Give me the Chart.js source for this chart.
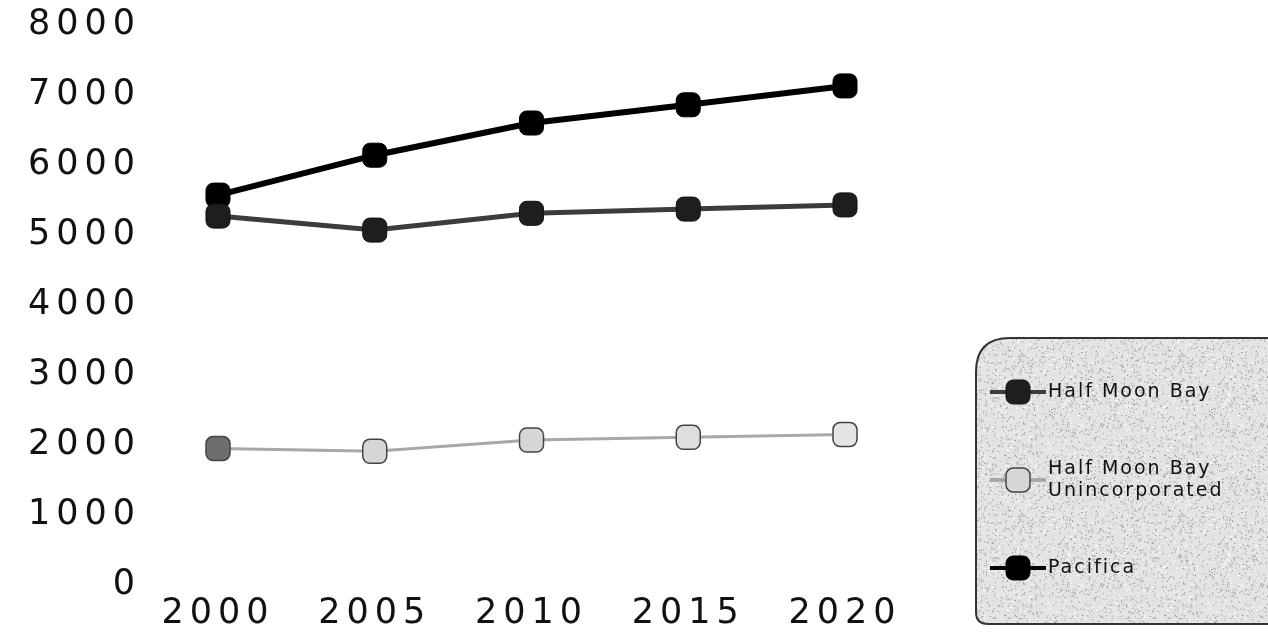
<!DOCTYPE html>
<html>
<head>
<meta charset="utf-8">
<script src="https://cdn.jsdelivr.net/npm/chart.js@4"></script>
<style>
  html, body { margin: 0; padding: 0; background: #fff; }
  #wrap { width: 1268px; height: 637px; position: relative; }
</style>
</head>
<body>
<div id="wrap"><canvas id="chart"></canvas></div>
<script>
const years = ['2000', '2005', '2010', '2015', '2020'];
const halfMoonBay = [5270, 5070, 5310, 5370, 5430];
const hmbUnincorporated = [1950, 1910, 2070, 2110, 2150];
const pacifica = [5570, 6140, 6600, 6860, 7130];
const yTicks = [0, 1000, 2000, 3000, 4000, 5000, 6000, 7000, 8000];

const labelFont = { family: "'DejaVu Sans', sans-serif", size: 35 };

// wide-set tick digits
const spacingPlugin = {
    id: 'spacing',
    beforeLayout(chart) { chart.ctx.letterSpacing = '6px'; },
    beforeDraw(chart) { chart.ctx.letterSpacing = '6px'; }
};

// speckled legend panel
function speckle(ctx) {
    const c = document.createElement('canvas');
    c.width = 160; c.height = 160;
    const p = c.getContext('2d');
    p.fillStyle = '#e4e4e4';
    p.fillRect(0, 0, 160, 160);
    let s = 12345;
    const next = () => { s = (s * 1103515245 + 12345) % 2147483648; return s / 2147483648; };
    for (let i = 0; i < 2600; i++) {
        const x = next() * 160, y = next() * 160;
        const g = next();
        p.fillStyle = g < 0.5 ? '#8a8a8a' : (g < 0.8 ? '#b5b5b5' : '#ffffff');
        p.fillRect(x, y, 1 + (g > 0.9 ? 1 : 0), 1);
    }
    return ctx.createPattern(c, 'repeat');
}

const legendPlugin = {
    id: 'sideLegend',
    afterDraw(chart) {
        const ctx = chart.ctx;
        const x0 = 976, y0 = 338, x1 = 1280, y1 = 624;
        ctx.save();
        ctx.letterSpacing = '0px';
        ctx.beginPath();
        ctx.moveTo(x0 + 34, y0);
        ctx.lineTo(x1, y0);
        ctx.lineTo(x1, y1);
        ctx.lineTo(x0 + 12, y1);
        ctx.quadraticCurveTo(x0, y1, x0, y1 - 12);
        ctx.lineTo(x0, y0 + 34);
        ctx.quadraticCurveTo(x0, y0, x0 + 34, y0);
        ctx.fillStyle = speckle(ctx);
        ctx.fill();
        ctx.lineWidth = 2;
        ctx.strokeStyle = '#333';
        ctx.stroke();

        const rows = [
            { y: 392, lines: ['Half Moon Bay'] },
            { y: 480, lines: ['Half Moon Bay', 'Unincorporated'] },
            { y: 568, lines: ['Pacifica'] }
        ];
        chart.data.datasets.forEach((ds, i) => {
            const r = rows[i];
            ctx.strokeStyle = ds.borderColor;
            ctx.lineWidth = 4;
            ctx.beginPath();
            ctx.moveTo(990, r.y);
            ctx.lineTo(1046, r.y);
            ctx.stroke();
            const fill = Array.isArray(ds.pointBackgroundColor) ? ds.pointBackgroundColor[1] : ds.pointBackgroundColor;
            ctx.fillStyle = fill;
            ctx.strokeStyle = ds.pointBorderColor;
            ctx.lineWidth = ds.pointBorderWidth;
            Chart.helpers.drawPoint(ctx, { pointStyle: 'rectRounded', radius: 14, rotation: 0, borderWidth: ds.pointBorderWidth }, 1018, r.y);
            ctx.fillStyle = '#111';
            ctx.font = "19px 'DejaVu Sans', sans-serif";
            ctx.letterSpacing = '2px';
            ctx.textBaseline = 'middle';
            const lh = 22;
            const top = r.y - (r.lines.length - 1) * lh / 2;
            r.lines.forEach((t, k) => ctx.fillText(t, 1048, top + k * lh));
        });
        ctx.restore();
    }
};

new Chart(document.getElementById('chart'), {
    type: 'line',
    data: {
        labels: years,
        datasets: [
            {
                label: 'Half Moon Bay',
                data: halfMoonBay,
                borderColor: '#3c3c3c',
                borderWidth: 5,
                pointStyle: 'rectRounded',
                pointRadius: 14,
                pointBackgroundColor: '#1e1e1e',
                pointBorderColor: '#111',
                pointBorderWidth: 1
            },
            {
                label: 'Half Moon Bay Unincorporated',
                data: hmbUnincorporated,
                borderColor: '#a8a8a8',
                borderWidth: 3,
                pointStyle: 'rectRounded',
                pointRadius: 14,
                pointBackgroundColor: ['#6e6e6e', '#d6d6d6', '#d6d6d6', '#dedede', '#e4e4e4'],
                pointBorderColor: '#444',
                pointBorderWidth: 1.5
            },
            {
                label: 'Pacifica',
                data: pacifica,
                borderColor: '#000',
                borderWidth: 6,
                pointStyle: 'rectRounded',
                pointRadius: 14,
                pointBackgroundColor: '#000',
                pointBorderColor: '#000',
                pointBorderWidth: 1
            }
        ]
    },
    options: {
        responsive: true,
        maintainAspectRatio: false,
        animation: false,
        layout: { padding: { top: 25, left: 14, right: 423, bottom: 0 } },
        plugins: {
            legend: { display: false },
            tooltip: { enabled: false }
        },
        scales: {
            x: {
                offset: false,
                grid: { display: false, drawTicks: false },
                border: { display: false },
                ticks: { color: '#111', font: labelFont, padding: 8, maxRotation: 0, autoSkip: false },
                afterFit: (axis) => { axis.height = 52; axis.paddingLeft = 0; axis.paddingRight = 0; }
            },
            y: {
                min: 0,
                max: 8000,
                afterBuildTicks: (axis) => { axis.ticks = yTicks.map(v => ({ value: v })); },
                grid: { display: false, drawTicks: false },
                border: { display: false },
                ticks: { color: '#111', font: labelFont, padding: 77, callback: (v) => String(v) },
                afterFit: (axis) => { axis.width = 204; axis.paddingTop = 0; axis.paddingBottom = 0; }
            }
        }
    },
    plugins: [spacingPlugin, legendPlugin]
});
</script>
</body>
</html>
